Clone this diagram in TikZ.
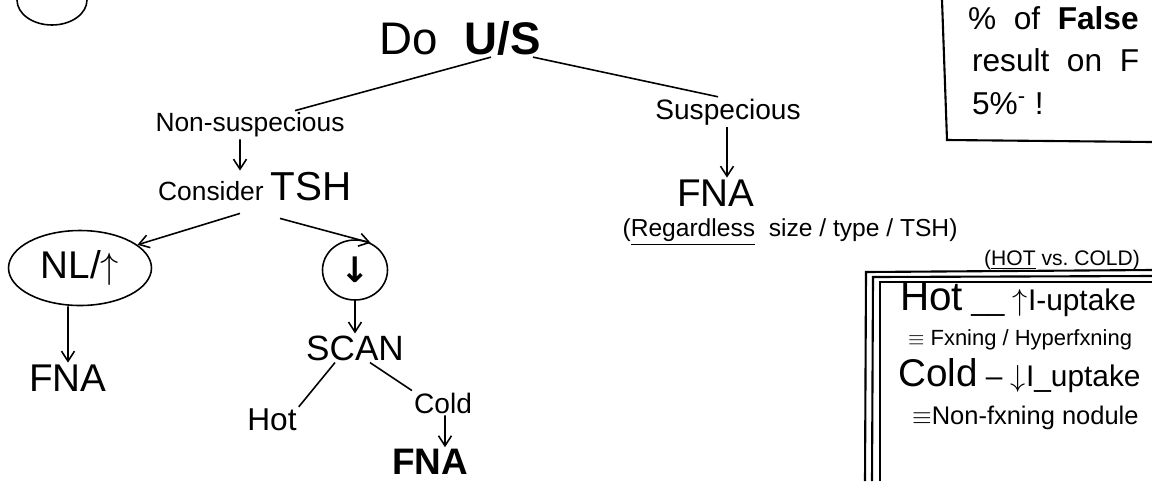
\documentclass[tikz,border=0pt]{standalone}
\usepackage{fontspec}
\setmainfont{Liberation Sans}
\newfontfamily\symb{DejaVu Sans}
\usepackage{tikz}
\usetikzlibrary{arrows.meta,positioning,shapes.geometric}

\begin{document}
\begin{tikzpicture}[
  x=0.02cm,y=-0.02cm,
  txt/.style={inner sep=1pt,font=\fontsize{15}{17}\selectfont},
  big/.style={inner sep=1pt,font=\fontsize{22}{24}\selectfont},
  note/.style={inner sep=1pt,anchor=west,font=\fontsize{17}{19}\selectfont},
  ring/.style={draw,ellipse,line width=0.9pt,inner sep=0pt},
  link/.style={line width=0.9pt},
  arr/.style={-{Straight Barb[length=2mm,width=2.6mm]},line width=0.9pt},
  frame/.style={line width=1.2pt},
]
  \useasboundingbox (0,0) rectangle (1152,481);

  % corner scrap
  \draw[link] (52,0) ellipse [x radius=0.7cm,y radius=0.5cm];

  % root
  \node[big,font=\fontsize{26}{28}\selectfont] (us) at (460,38) {Do\hspace{0.6em}\textbf{U/S}};

  % left branch
  \node[txt] (nonsus) at (250,125) {Non-suspecious};
  \node[txt] (tsh) at (255,187) {Consider {\fontsize{23}{25}\selectfont TSH}};
  \node[ring,big,minimum width=2.86cm,minimum height=1.5cm] (nlup) at (80,268) {NL/$\uparrow$};
  \node[ring,minimum width=1.3cm,minimum height=1.2cm,font=\fontsize{20}{20}\selectfont\symb\bfseries] (dn) at (355,270) {↓};
  \node[big] (fnaL) at (68,378) {FNA};
  \node[big,font=\fontsize{20}{22}\selectfont] (scan) at (355,348) {SCAN};
  \node[txt,font=\fontsize{18}{20}\selectfont] (hot) at (272,420) {Hot};
  \node[txt,font=\fontsize{16}{18}\selectfont] (cold) at (443,403) {Cold};
  \node[big,font=\fontsize{21}{23}\selectfont\bfseries] (fnaB) at (430,462) {FNA};

  % right branch
  \node[txt,font=\fontsize{16}{18}\selectfont] (sus) at (728,112) {Suspecious};
  \node[big] (fnaR) at (716,193) {FNA};
  \node[txt,font=\fontsize{14}{16}\selectfont] (regard) at (790,232) {(\underline{Regardless}\ \ size / type / TSH)};
  \node[txt,font=\fontsize{12}{14}\selectfont] (hvc) at (1062,260) {(\underline{HOT} vs.\ COLD)};

  % links
  \draw[link] ([xshift=0.62cm]us.south) -- ([xshift=0.9cm]nonsus.north);
  \draw[link] ([xshift=1.46cm]us.south) -- ([xshift=-0.2cm]sus.north);
  \draw[arr] ([xshift=-0.2cm]nonsus.south) -- ([xshift=-0.3cm]tsh.north);
  \draw[arr] ([xshift=-0.3cm,yshift=-0.2cm]tsh.south) -- (nlup.22);
  \draw[arr] ([xshift=0.5cm,yshift=-0.3cm]tsh.south) -- (dn.60);
  \draw[arr] ([xshift=-0.24cm]nlup.south) -- (fnaL.north);
  \draw[arr] (dn.south) -- (scan.north);
  \draw[link] ([xshift=-0.4cm]scan.south) -- (hot.north east);
  \draw[link] ([xshift=0.3cm]scan.south) -- (cold.north west);
  \draw[arr] ([xshift=0.04cm]cold.south) -- ([xshift=0.3cm]fnaB.north);
  \draw[arr] ([xshift=-0.02cm]sus.south) -- ([xshift=0.22cm]fnaR.north);

  % false result box
  \draw[frame] (942,0) -- (947,140) -- (1152,142);
  \node[note,font=\fontsize{18}{20}\selectfont] (fr1) at (966,18) {\%~~of~~\textbf{False}};
  \node[note,font=\fontsize{18}{20}\selectfont] (fr2) at (970,60) {result~~on~~F};
  \node[note,font=\fontsize{18}{20}\selectfont] (fr3) at (970,104) {5\%\textsuperscript{-}~!};

  % hot vs cold box
  \draw[frame] (865,481) -- (866,272) -- (1152,270);
  \draw[frame] (872,481) -- (873,277) -- (1152,276);
  \draw[frame] (880,481) -- (880,282) -- (1152,282);
  \node[note] (hc1) at (898,300) {{\fontsize{23}{25}\selectfont Hot} \_\_ $\uparrow$I-uptake};
  \node[note,font=\fontsize{12.5}{14}\selectfont] (hc2) at (906,340) {$\equiv$ Fxning / Hyperfxning};
  \node[note] (hc3) at (896,376) {{\fontsize{22}{24}\selectfont Cold} -- $\downarrow$I\_uptake};
  \node[note,font=\fontsize{14.5}{16}\selectfont] (hc4) at (910,418) {$\equiv$Non-fxning nodule};
\end{tikzpicture}
\end{document}
